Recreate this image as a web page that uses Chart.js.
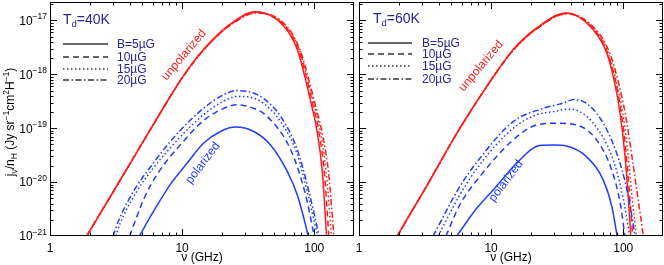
<!DOCTYPE html>
<html><head><meta charset="utf-8">
<script src="https://cdn.jsdelivr.net/npm/chart.js@4.4.1/dist/chart.umd.min.js"></script>
<style>
html,body{margin:0;padding:0;background:#fff;}
#wrap{position:relative;width:664px;height:265px;overflow:hidden;}
canvas{position:absolute;top:0;}
</style>
</head><body>
<div id="wrap">
<canvas id="cL" width="356" height="265" style="left:0;width:356px;height:265px"></canvas>
<canvas id="cR" width="308" height="265" style="left:356px;width:308px;height:265px"></canvas>
</div>
<script>
// ---------- axis settings ----------
const xMin = 1, xMax = 200;
const yMin = 1e-21, yMax = 2.2e-17;
const xTickLabels = ['1', '10', '100'];
const xTickValues = [1, 10, 100];
const yTickExps = [-21, -20, -19, -18, -17];
const legendLabels = ['B=5\u00B5G', '10\u00B5G', '15\u00B5G', '20\u00B5G'];

// ---------- T_d = 40 K (left panel) ----------
const nuRed5L  = [1.9, 2.4, 3.2, 4.9, 8.1, 10, 14.5, 22, 36, 59, 75, 85, 95, 105, 115, 124];
const jRed5L   = [1.0e-21, 2.63e-21, 8.5e-21, 4.9e-20, 3.8e-19, 8.7e-19, 2.9e-18, 7.8e-18, 1.45e-17, 7.8e-18, 2.75e-18, 8.9e-19, 2.8e-19, 8.9e-20, 1.6e-20, 1.0e-21];
const nuRed10L = [1.9, 2.4, 3.2, 4.9, 8.1, 10, 14.5, 22, 36, 60, 76.5, 87, 97.5, 108, 119, 129];
const jRed10L  = [1.0e-21, 2.63e-21, 8.5e-21, 4.9e-20, 3.8e-19, 8.6e-19, 2.85e-18, 7.6e-18, 1.42e-17, 7.8e-18, 2.75e-18, 8.9e-19, 2.8e-19, 8.9e-20, 1.6e-20, 1.0e-21];
const nuRed15L = [1.9, 2.4, 3.2, 4.9, 8.1, 10, 14.5, 22, 36, 61, 77.5, 88.5, 99.5, 111, 123, 135];
const jRed15L  = [1.0e-21, 2.63e-21, 8.5e-21, 4.9e-20, 3.8e-19, 8.5e-19, 2.8e-18, 7.5e-18, 1.4e-17, 7.8e-18, 2.75e-18, 8.9e-19, 2.8e-19, 8.9e-20, 1.6e-20, 1.0e-21];
const nuRed20L = [1.9, 2.4, 3.2, 4.9, 8.1, 10, 14.5, 22, 37, 62, 78.5, 90, 101.5, 114, 128, 141];
const jRed20L  = [1.0e-21, 2.63e-21, 8.5e-21, 4.9e-20, 3.8e-19, 8.5e-19, 2.8e-18, 7.4e-18, 1.38e-17, 7.8e-18, 2.75e-18, 8.9e-19, 2.8e-19, 8.9e-20, 1.6e-20, 1.0e-21];

const nuBlue5L  = [4.75, 6.05, 8.1, 10.9, 14.5, 19.5, 25.3, 34.8, 46.7, 62.5, 74.5, 86.1, 90];
const jBlue5L   = [1.0e-21, 2.82e-21, 8.9e-21, 2.24e-20, 5.25e-20, 8.7e-20, 1.05e-19, 8.7e-20, 4.9e-20, 1.58e-20, 5.75e-21, 1.58e-21, 1.0e-21];
const nuBlue10L = [4.0, 5.23, 6.42, 8.1, 9.95, 12.2, 15.4, 19.5, 26, 34.8, 44, 66.3, 86.1, 100];
const jBlue10L  = [1.0e-21, 5.4e-21, 1.35e-20, 2.95e-20, 5.25e-20, 9.3e-20, 1.55e-19, 2.19e-19, 2.72e-19, 2.34e-19, 1.66e-19, 3.98e-20, 5.75e-21, 1.0e-21];
const nuBlue15L = [3.15, 3.38, 4.52, 6.05, 8.1, 10.9, 14.5, 19.5, 26, 39.2, 55.6, 74.5, 88.7, 106];
const jBlue15L  = [1.0e-21, 1.66e-21, 6.6e-21, 1.82e-20, 4.27e-20, 9.3e-20, 1.78e-19, 2.95e-19, 3.89e-19, 3.16e-19, 1.32e-19, 3.24e-20, 6.6e-21, 1.0e-21];
const nuBlue20L = [3.0, 3.38, 4.52, 6.05, 8.1, 10.9, 14.5, 19.5, 26, 39.2, 55.6, 74.5, 91.3, 109];
const jBlue20L  = [1.0e-21, 2.19e-21, 8.3e-21, 2.24e-20, 5.6e-20, 1.23e-19, 2.34e-19, 3.89e-19, 5.0e-19, 3.89e-19, 1.66e-19, 3.98e-20, 6.6e-21, 1.0e-21];

// ---------- T_d = 60 K (right panel) ----------
const nuRed5R  = [1.95, 2.4, 3.2, 5.7, 10, 14.7, 22, 37, 59, 75, 86, 95, 103, 110, 114];
const jRed5R   = [1.0e-21, 2.4e-21, 7.9e-21, 9.3e-20, 7.9e-19, 2.9e-18, 7.2e-18, 1.38e-17, 6.8e-18, 2.5e-18, 7.1e-19, 1.78e-19, 3.16e-20, 4.0e-21, 1.0e-21];
const nuRed10R = [1.95, 2.4, 3.2, 5.7, 10, 14.7, 22, 37, 60, 76, 87.5, 97, 105.5, 113, 118];
const jRed10R  = [1.0e-21, 2.4e-21, 7.9e-21, 9.3e-20, 7.8e-19, 2.85e-18, 7.0e-18, 1.35e-17, 6.8e-18, 2.5e-18, 7.1e-19, 1.78e-19, 3.16e-20, 4.0e-21, 1.0e-21];
const nuRed15R = [1.95, 2.4, 3.2, 5.7, 10, 14.7, 22, 37, 61, 77, 89, 99.5, 109, 118, 126];
const jRed15R  = [1.0e-21, 2.4e-21, 7.9e-21, 9.3e-20, 7.8e-19, 2.8e-18, 6.9e-18, 1.34e-17, 6.8e-18, 2.5e-18, 7.1e-19, 1.78e-19, 3.16e-20, 4.0e-21, 1.0e-21];
const nuRed20R = [1.95, 2.4, 3.2, 5.7, 10, 14.7, 22, 38, 62, 79, 92, 104, 116, 131, 142];
const jRed20R  = [1.0e-21, 2.4e-21, 7.9e-21, 9.3e-20, 7.8e-19, 2.8e-18, 6.9e-18, 1.33e-17, 6.8e-18, 2.5e-18, 7.1e-19, 1.78e-19, 3.16e-20, 4.0e-21, 1.0e-21];

const nuBlue5R  = [5.5, 7.8, 10.4, 15.6, 23.4, 30, 37.3, 52.8, 70.5, 82, 90];
const jBlue5R   = [1.0e-21, 3.3e-21, 7.2e-21, 2.24e-20, 4.8e-20, 4.9e-20, 4.7e-20, 2.95e-20, 1.1e-20, 3.5e-21, 1.0e-21];
const nuBlue10R = [4.55, 5.8, 8.2, 14.7, 22.1, 31.3, 44.3, 62.8, 81.7, 95, 103];
const jBlue10R  = [1.0e-21, 3.8e-21, 1.26e-20, 6.1e-20, 1.15e-19, 1.24e-19, 1.15e-19, 6.1e-20, 1.7e-20, 4.0e-21, 1.0e-21];
const nuBlue15R = [3.97, 5.8, 8.2, 14.7, 22.1, 30, 39.5, 59.3, 84, 100, 112];
const jBlue15R  = [1.0e-21, 5.8e-21, 2.1e-20, 1.0e-19, 1.78e-19, 2.04e-19, 2.26e-19, 1.24e-19, 2.57e-20, 5.0e-21, 1.0e-21];
const nuBlue20R = [3.64, 5.8, 8.2, 14.7, 24.8, 33, 43.1, 62.8, 89, 108, 123];
const jBlue20R  = [1.0e-21, 8.3e-21, 2.75e-20, 1.33e-19, 2.34e-19, 2.8e-19, 3.4e-19, 1.9e-19, 3.5e-20, 6.3e-21, 1.0e-21];

// ---------- styles ----------
const RED = '#ff1c1c', BLUE = '#1f3cff', NAVY = '#25259a', INK = '#000';
const FONT = '"Liberation Sans", Arial, Helvetica, sans-serif';
const DASHES = [[], [6, 4], [1.5, 2.5], [6, 2.5, 1.5, 2.5]];

function pts(nu, j) { return nu.map((v, i) => ({ x: v, y: j[i] })); }
function ds(nu, j, color, k) {
  return { data: pts(nu, j), borderColor: color, borderWidth: 1.5, borderDash: DASHES[k],
           pointRadius: 0, cubicInterpolationMode: 'monotone', fill: false };
}

function richWidth(ctx, parts) {
  let w = 0;
  for (const [t, s] of parts) { ctx.font = s + 'px ' + FONT; w += ctx.measureText(t).width; }
  return w;
}
function drawRich(ctx, parts, x, y, align) {
  const w = richWidth(ctx, parts);
  let cx = align === 'right' ? x - w : align === 'center' ? x - w / 2 : x;
  ctx.textBaseline = 'alphabetic'; ctx.textAlign = 'left';
  for (const [t, s, dy] of parts) {
    ctx.font = s + 'px ' + FONT;
    ctx.fillText(t, cx, y + (dy || 0));
    cx += ctx.measureText(t).width;
  }
}

const decor = {
  id: 'decor',
  afterDatasetsDraw(chart, args, o) {
    const { ctx, chartArea: a, scales: { x, y } } = chart;
    ctx.save();
    ctx.strokeStyle = INK; ctx.lineWidth = 1; ctx.setLineDash([]);
    ctx.strokeRect(Math.round(a.left) + 0.5, Math.round(a.top) + 0.5,
                   Math.round(a.right - a.left) - 1, Math.round(a.bottom - a.top) - 1);
    ctx.beginPath();
    for (let n = 0; n <= 2; n++) for (let k = 1; k <= 9; k++) {
      const v = k * Math.pow(10, n);
      if (v <= x.min || v >= x.max) continue;
      const px = Math.round(x.getPixelForValue(v)) + 0.5;
      const L = k === 1 ? 7 : 3.5;
      ctx.moveTo(px, a.bottom); ctx.lineTo(px, a.bottom - L);
      ctx.moveTo(px, a.top); ctx.lineTo(px, a.top + L);
    }
    for (let n = -21; n <= -17; n++) for (let k = 1; k <= 9; k++) {
      const v = k * Math.pow(10, n);
      if (v <= y.min * 1.0001 || v >= y.max) continue;
      const py = Math.round(y.getPixelForValue(v)) + 0.5;
      const L = k === 1 ? 7 : 3.5;
      ctx.moveTo(a.left, py); ctx.lineTo(a.left + L, py);
      ctx.moveTo(a.right, py); ctx.lineTo(a.right - L, py);
    }
    ctx.stroke();

    ctx.fillStyle = INK;
    xTickValues.forEach((v, i) => {
      drawRich(ctx, [[xTickLabels[i], 12]], x.getPixelForValue(v), 251.5, 'center');
    });
    drawRich(ctx, [['\u03BD (GHz)', 12]], (a.left + a.right) / 2, 261, 'center');

    if (o.yLabels) {
      yTickExps.forEach(e => {
        const py = y.getPixelForValue(Math.pow(10, e));
        const sup = '\u2212' + Math.abs(e);
        ctx.font = '8.5px ' + FONT;
        const ws = ctx.measureText(sup).width;
        ctx.font = '12px ' + FONT;
        const wb = ctx.measureText('10').width;
        const right = a.left - 3;
        ctx.textAlign = 'left'; ctx.textBaseline = 'alphabetic';
        ctx.fillText('10', right - ws - wb, py + 4.3);
        ctx.font = '8.5px ' + FONT;
        ctx.fillText(sup, right - ws, py - 1);
      });
      ctx.save();
      ctx.translate(14, 122);
      ctx.rotate(-Math.PI / 2);
      drawRich(ctx, [['j', 12], ['\u03BD', 8.5, 2.5], ['/n', 12], ['H', 8.5, 2.5], [' (Jy sr', 12],
                     ['\u22121', 8.5, -5], ['cm', 12], ['2', 8.5, -5], ['H', 12], ['\u22121', 8.5, -5], [')', 12]],
               0, 0, 'center');
      ctx.restore();
    }

    ctx.fillStyle = NAVY;
    drawRich(ctx, [['T', 14], ['d', 9.5, 3], [o.temp, 14]], a.left + o.tX, o.tY + 5, 'left');
    ctx.strokeStyle = '#333'; ctx.lineWidth = 1.5;
    o.legY.forEach((ly, i) => {
      ctx.setLineDash(DASHES[i]);
      ctx.beginPath();
      ctx.moveTo(a.left + o.legX0, ly); ctx.lineTo(a.left + o.legX1, ly);
      ctx.stroke();
      ctx.fillStyle = NAVY;
      drawRich(ctx, [[legendLabels[i], 12]], a.left + o.legTX, ly + 4.3, 'left');
    });
    ctx.setLineDash([]);
    const rot = (txt, cx, cy, ang, col) => {
      ctx.save(); ctx.translate(cx, cy); ctx.rotate(ang * Math.PI / 180);
      ctx.fillStyle = col; ctx.font = '12px ' + FONT;
      ctx.textAlign = 'center'; ctx.textBaseline = 'middle';
      ctx.fillText(txt, 0, 0); ctx.restore();
    };
    rot('unpolarized', a.left + o.uX, o.uY, -50, RED);
    rot('polarized', a.left + o.pX, o.pY, -53, BLUE);
    ctx.restore();
  }
};

function makeChart(id, sets, yWidth, padR, deco) {
  return new Chart(document.getElementById(id), {
    type: 'line',
    data: { datasets: sets },
    options: {
      responsive: false, animation: false, devicePixelRatio: 1,
      layout: { padding: { left: 0, right: padR, top: 2, bottom: 0 } },
      plugins: { legend: { display: false }, tooltip: { enabled: false }, decor: deco },
      scales: {
        x: { type: 'logarithmic', min: xMin, max: xMax,
             grid: { display: false }, border: { display: false },
             ticks: { display: false }, afterFit: s => { s.height = 29; } },
        y: { type: 'logarithmic', min: yMin, max: yMax,
             grid: { display: false }, border: { display: false },
             ticks: { display: false }, afterFit: s => { s.width = yWidth; } }
      }
    },
    plugins: [decor]
  });
}

makeChart('cL', [
  ds(nuBlue5L, jBlue5L, BLUE, 0), ds(nuBlue10L, jBlue10L, BLUE, 1),
  ds(nuBlue15L, jBlue15L, BLUE, 2), ds(nuBlue20L, jBlue20L, BLUE, 3),
  ds(nuRed20L, jRed20L, RED, 3), ds(nuRed15L, jRed15L, RED, 2),
  ds(nuRed10L, jRed10L, RED, 1), ds(nuRed5L, jRed5L, RED, 0)
], 50, 2, { yLabels: true, temp: '=40K', tX: 13, tY: 19,
           legX0: 13, legX1: 58, legTX: 67, legY: [44, 57, 69, 80],
           uX: 134, uY: 55, pX: 153, pY: 163 });

makeChart('cR', [
  ds(nuBlue5R, jBlue5R, BLUE, 0), ds(nuBlue10R, jBlue10R, BLUE, 1),
  ds(nuBlue15R, jBlue15R, BLUE, 2), ds(nuBlue20R, jBlue20R, BLUE, 3),
  ds(nuRed20R, jRed20R, RED, 3), ds(nuRed15R, jRed15R, RED, 2),
  ds(nuRed10R, jRed10R, RED, 1), ds(nuRed5R, jRed5R, RED, 0)
], 3, 1, { yLabels: false, temp: '=60K', tX: 14, tY: 18,
          legX0: 9, legX1: 53, legTX: 63, legY: [43, 54, 66, 79],
          uX: 122, uY: 66, pX: 147, pY: 181 });
</script>
</body></html>
